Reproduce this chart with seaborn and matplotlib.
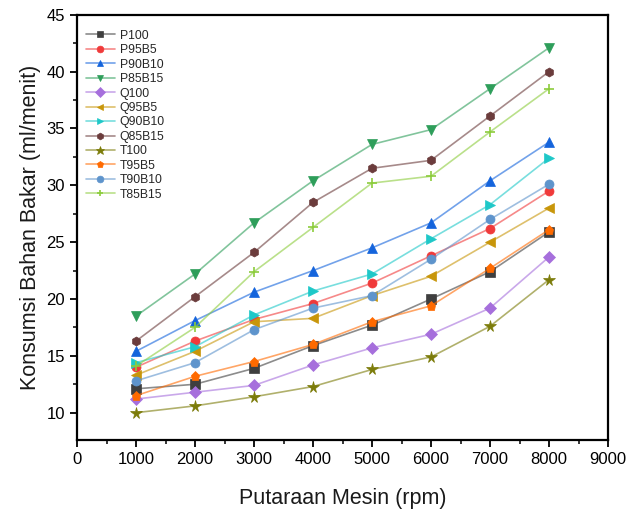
import matplotlib
matplotlib.use("Agg")
import matplotlib.pyplot as plt
import matplotlib.colors as mcolors
from matplotlib.ticker import MultipleLocator
import seaborn as sns
import numpy as np

rpm = [1000, 2000, 3000, 4000, 5000, 6000, 7000, 8000]

P100 = [12.1, 12.5, 13.9, 15.9, 17.7, 20.0, 22.4, 25.9]
P95B5 = [14.0, 16.3, 18.2, 19.6, 21.4, 23.8, 26.2, 29.5]
P90B10 = [15.4, 18.1, 20.6, 22.5, 24.5, 26.7, 30.4, 33.8]
P85B15 = [18.5, 22.2, 26.7, 30.4, 33.6, 34.9, 38.5, 42.1]
Q100 = [11.2, 11.8, 12.4, 14.2, 15.7, 16.9, 19.2, 23.7]
Q95B5 = [13.3, 15.4, 18.0, 18.3, 20.3, 22.0, 25.0, 28.0]
Q90B10 = [14.4, 15.8, 18.6, 20.7, 22.2, 25.3, 28.3, 32.4]
Q85B15 = [16.3, 20.2, 24.1, 28.5, 31.5, 32.2, 36.1, 40.0]
T100 = [10.0, 10.6, 11.4, 12.3, 13.8, 14.9, 17.6, 21.7]
T95B5 = [11.5, 13.2, 14.5, 16.0, 18.0, 19.4, 22.7, 26.1]
T90B10 = [12.8, 14.4, 17.3, 19.2, 20.3, 23.5, 27.0, 30.1]
T85B15 = [14.1, 17.5, 22.4, 26.3, 30.2, 30.8, 34.7, 38.5]

labels = ["P100", "P95B5", "P90B10", "P85B15", "Q100", "Q95B5",
          "Q90B10", "Q85B15", "T100", "T95B5", "T90B10", "T85B15"]
series = [P100, P95B5, P90B10, P85B15, Q100, Q95B5,
          Q90B10, Q85B15, T100, T95B5, T90B10, T85B15]
colors = ["#3f3f3f", "#f03a3a", "#1464dc", "#2e9e5a", "#a66fdc", "#c8960a",
          "#1ec8c8", "#6b3c3c", "#7c7c0a", "#ff6a00", "#5e94cc", "#8ccc3c"]
markers = ["s", "o", "^", "v", "D", "<", ">", "h", "*", "p", "o", "+"]

sns.set_style("ticks")
plt.rcParams['font.family'] = ['Liberation Sans', 'DejaVu Sans']

fig = plt.figure(figsize=(6.39, 5.11), dpi=100)
ax = fig.add_axes([0.1205, 0.139, 0.831, 0.832])

for lab, y, c, m in zip(labels, series, colors, markers):
    line_c = mcolors.to_rgba(c, 0.6)
    sns.lineplot(x=rpm, y=y, ax=ax, label=lab, color=c, marker=m,
                 markersize=8.5 if m == "*" else 6.5, linewidth=1.2,
                 markerfacecolor=c, markeredgecolor=c,
                 markeredgewidth=1.2 if m == "+" else 0.5)
    ax.lines[-1].set_color(line_c)
    ax.lines[-1].set_markerfacecolor(c)
    ax.lines[-1].set_markeredgecolor(c)

ax.set_xlim(0, 9000)
ax.set_ylim(7.6, 45)
ax.xaxis.set_major_locator(MultipleLocator(1000))
ax.xaxis.set_minor_locator(MultipleLocator(500))
ax.yaxis.set_major_locator(MultipleLocator(5))
ax.yaxis.set_minor_locator(MultipleLocator(2.5))
ax.tick_params(which="major", direction="out", length=5, width=1.3,
               labelsize=12, colors="black")
ax.tick_params(which="minor", direction="out", length=3, width=1.1, colors="black")
for s in ax.spines.values():
    s.set_linewidth(1.6)
    s.set_color("black")

ax.set_xlabel("Putaraan Mesin (rpm)", fontsize=15.5, labelpad=15, color="#1a1a1a")
ax.set_ylabel("Konsumsi Bahan Bakar (ml/menit)", fontsize=15.5, labelpad=4, color="#1a1a1a")

ax.legend(loc="upper left", bbox_to_anchor=(0.0, 0.985), frameon=False,
          fontsize=8.8, handlelength=2.4, markerscale=0.75,
          labelspacing=0.2, borderaxespad=0.3, handletextpad=0.4)

fig.savefig("out.png", dpi=100)
